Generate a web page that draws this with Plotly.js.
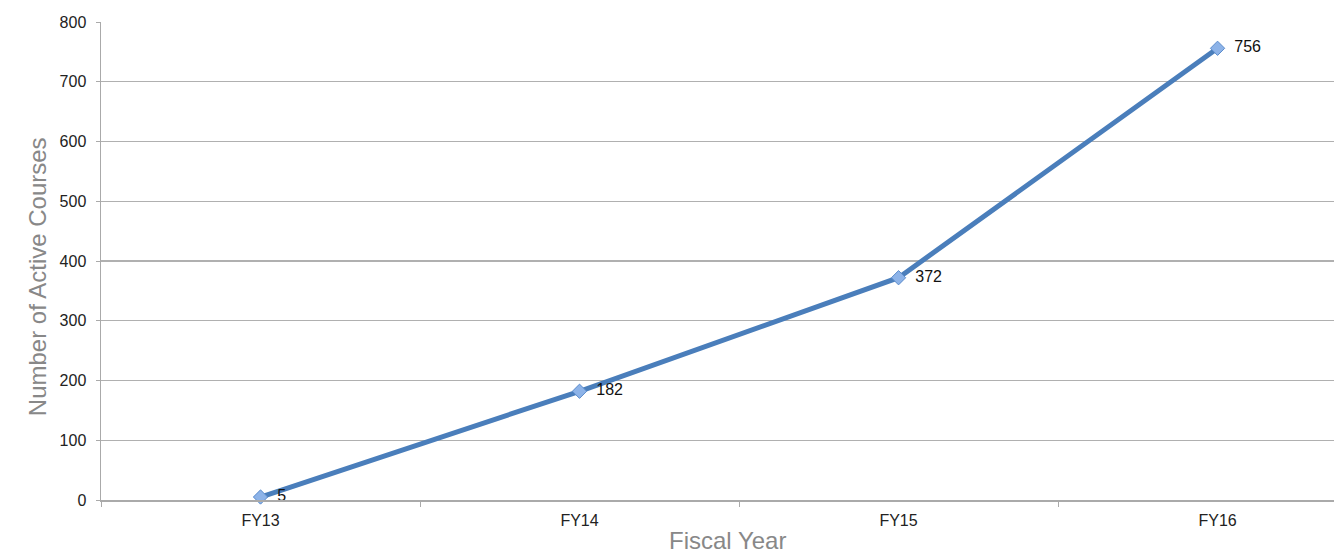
<!DOCTYPE html>
<html>
<head>
<meta charset="utf-8">
<script src="https://cdn.plot.ly/plotly-3.0.1.min.js"></script>
<style>html,body{margin:0;padding:0;background:#fff;}#chart{width:1334px;height:554px;}</style>
</head>
<body>
<div id="chart"></div>
<script>
const years = ["FY13", "FY14", "FY15", "FY16"];
const courses = [5, 182, 372, 756];
const labels = courses.map(v => "\u00a0\u00a0" + v);
const xTitle = "Fiscal Year";
const yTitle = "Number of Active Courses";

const trace = {
  x: years,
  y: courses,
  type: "scatter",
  mode: "lines+markers+text",
  text: labels,
  textposition: "middle right",
  textfont: {family: "Liberation Sans, Arial, sans-serif", size: 16, color: "#111"},
  line: {color: "#4a7ebb", width: 5},
  marker: {symbol: "diamond", size: 11, color: "#8db3e8", line: {color: "#5b8ccc", width: 1}},
  cliponaxis: false,
  hoverinfo: "none"
};

const layout = {
  width: 1334,
  height: 554,
  margin: {l: 101, r: 0, t: 22, b: 54},
  paper_bgcolor: "#fff",
  plot_bgcolor: "#fff",
  showlegend: false,
  font: {family: "Liberation Sans, Arial, sans-serif", size: 16, color: "#222"},
  xaxis: {
    type: "category",
    range: [-0.5, 3.365],
    tickson: "boundaries",
    ticks: "outside",
    ticklen: 5,
    tickcolor: "#aaa",
    ticklabelstandoff: 5,
    showgrid: false,
    showline: true,
    linecolor: "#aaa",
    linewidth: 1.5,
    zeroline: false,
    tickfont: {size: 16, color: "#222"}
  },
  yaxis: {
    range: [0, 800],
    dtick: 100,
    ticks: "outside",
    ticklen: 4,
    tickcolor: "#aaa",
    ticklabelstandoff: 6,
    showgrid: true,
    gridcolor: "#b0b0b0",
    gridwidth: 1.2,
    showline: true,
    linecolor: "#aaa",
    linewidth: 1.5,
    zeroline: false,
    tickfont: {size: 16, color: "#222"}
  },
  annotations: [
    {text: xTitle, xref: "paper", yref: "paper", x: 0.508, y: -0.084,
     xanchor: "center", yanchor: "middle", showarrow: false,
     font: {size: 24, color: "#888"}},
    {text: yTitle, xref: "paper", yref: "paper", x: -0.052, y: 0.468,
     xanchor: "center", yanchor: "middle", showarrow: false, textangle: -90,
     font: {size: 24, color: "#888"}}
  ]
};

Plotly.newPlot("chart", [trace], layout, {displayModeBar: false, staticPlot: true});
</script>
</body>
</html>
